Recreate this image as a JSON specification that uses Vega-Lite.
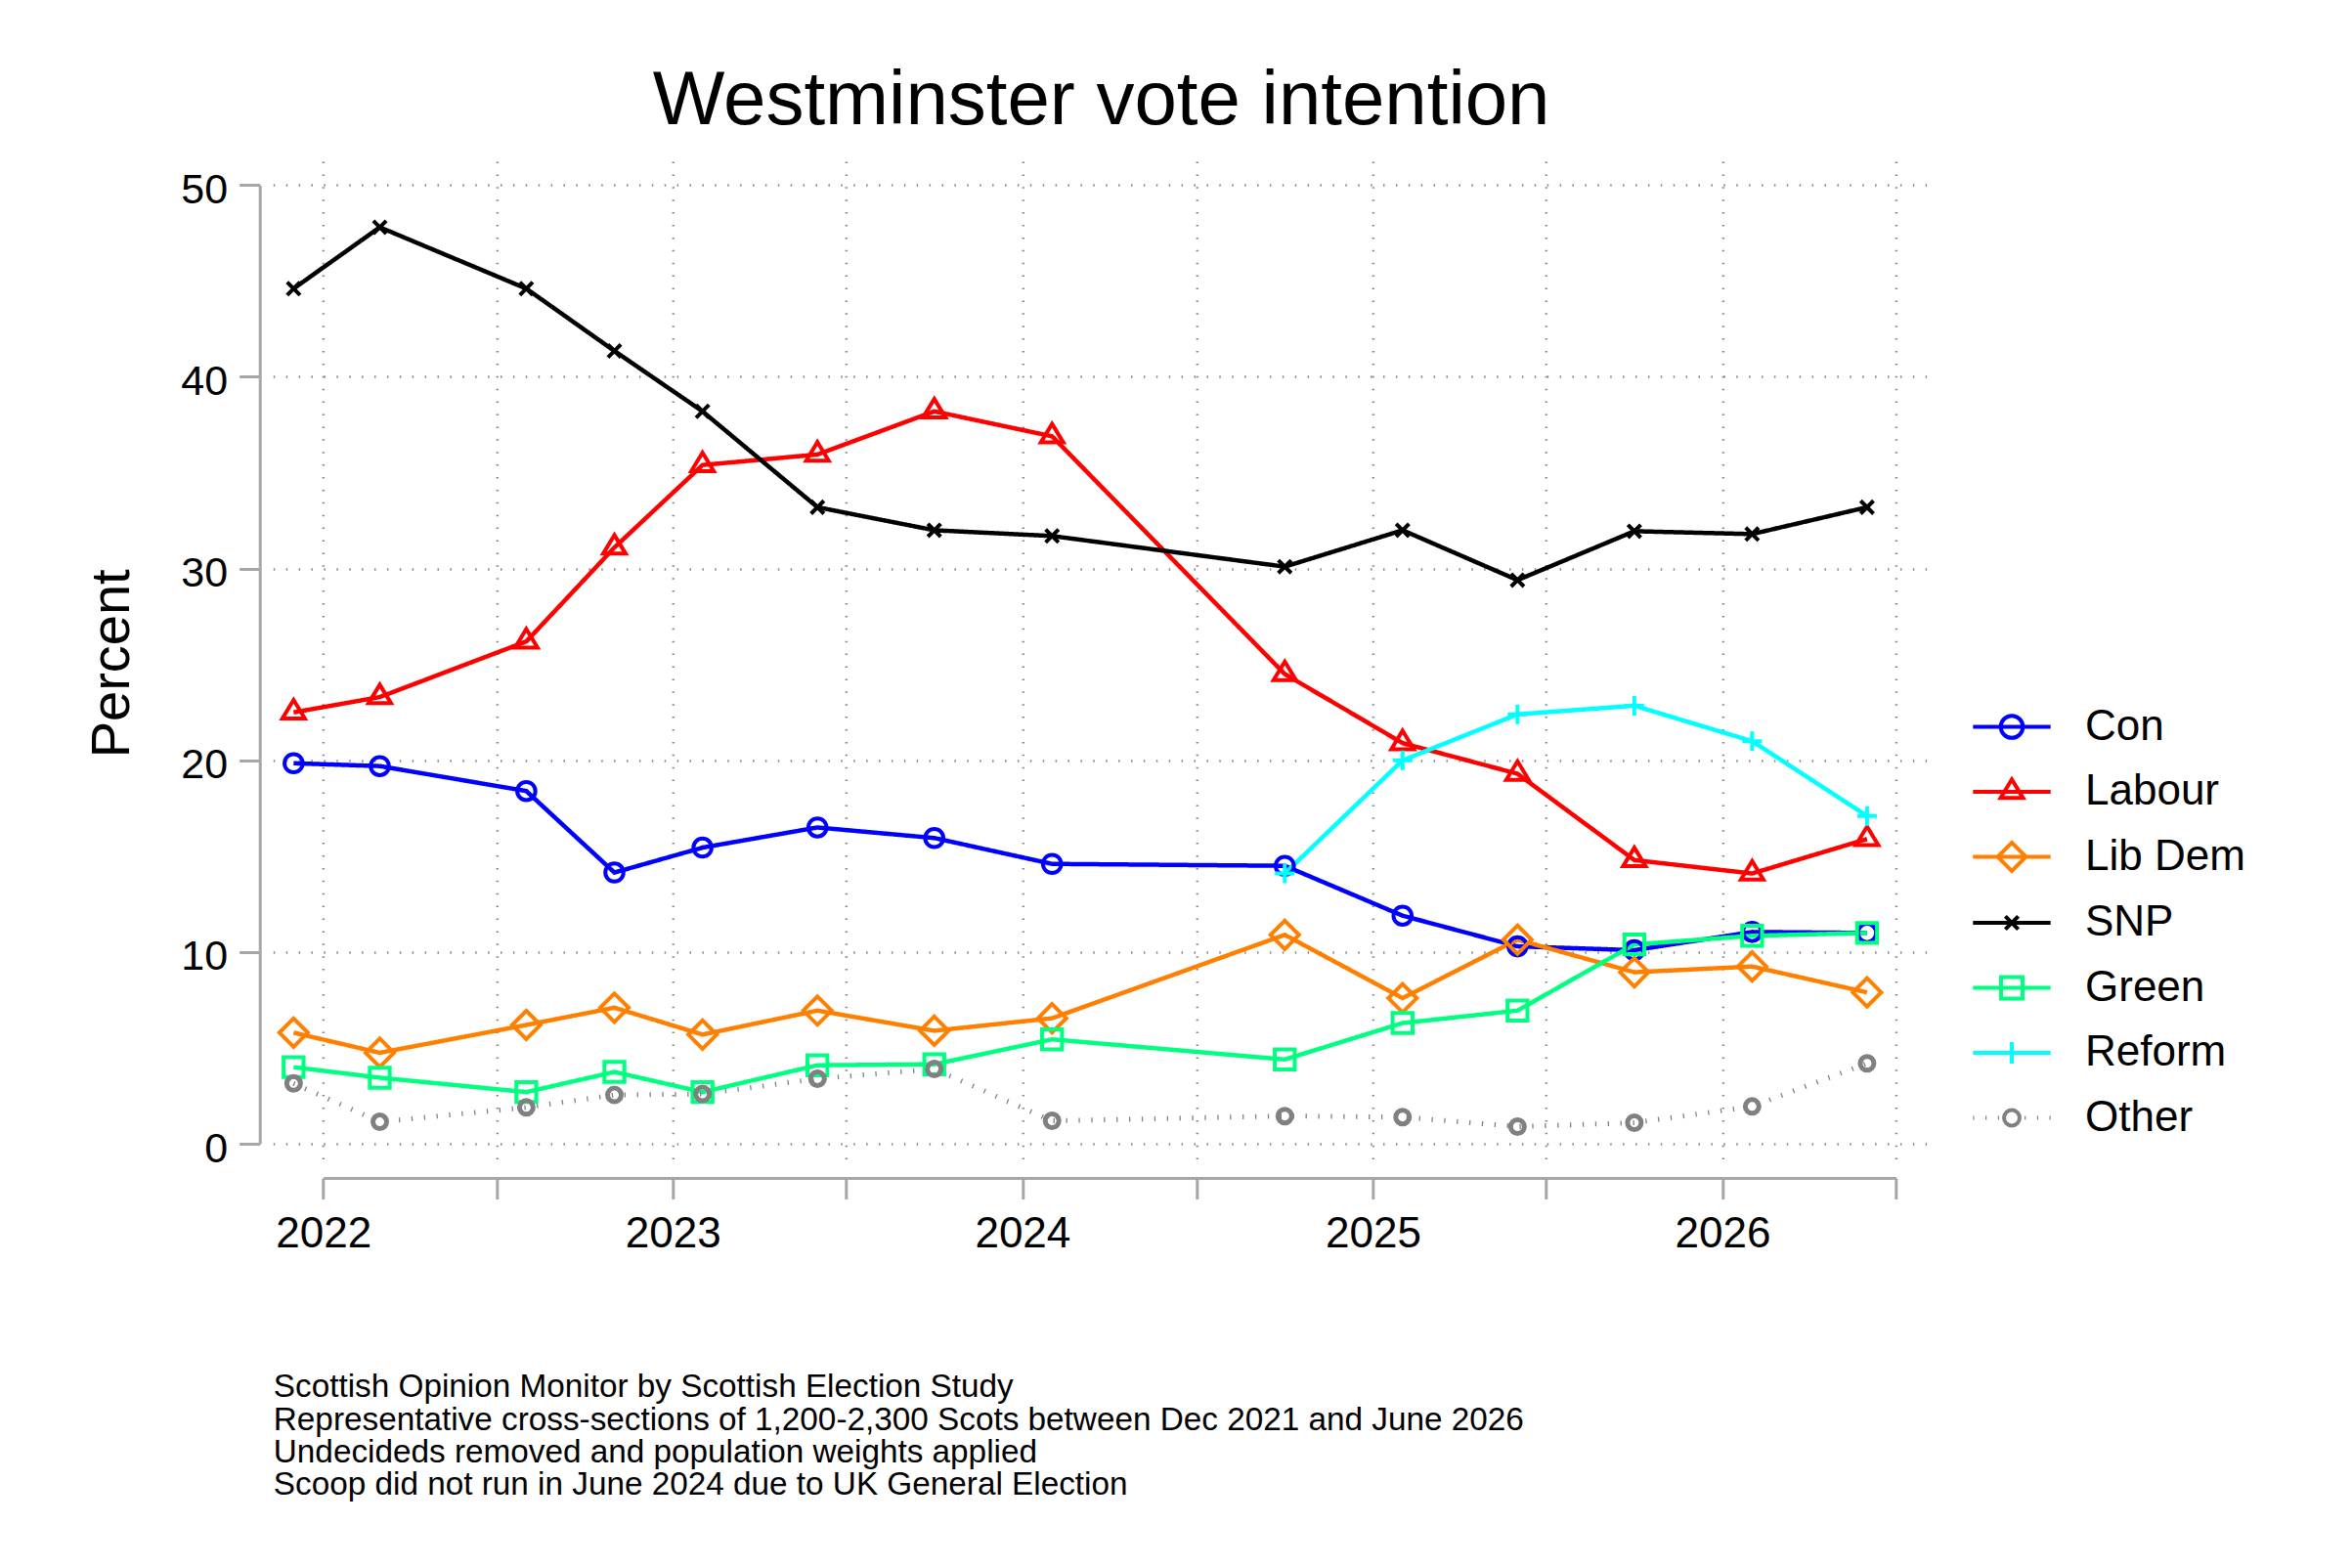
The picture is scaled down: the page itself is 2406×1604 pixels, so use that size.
{
  "$schema": "https://vega.github.io/schema/vega-lite/v6.json",
  "description": "Westminster vote intention, Scottish Opinion Monitor",
  "autosize": "none",
  "padding": {"left": 279.3, "top": 165, "right": 432, "bottom": 412.3},
  "width": 1694.7,
  "height": 1026.7,
  "background": "white",
  "config": {"view": {"stroke": null}, "font": "Liberation Sans"},
  "title": {
    "text": "Westminster vote intention",
    "font": "Liberation Sans",
    "fontSize": 78,
    "fontWeight": "normal",
    "color": "black",
    "anchor": "middle",
    "frame": "group",
    "baseline": "alphabetic",
    "offset": -40
  },
  "data": {
    "values": [
      {"date": "2021-12-01", "party": "Con", "pct": 19.85},
      {"date": "2022-03-01", "party": "Con", "pct": 19.7},
      {"date": "2022-08-01", "party": "Con", "pct": 18.4},
      {"date": "2022-11-01", "party": "Con", "pct": 14.15},
      {"date": "2023-02-01", "party": "Con", "pct": 15.45},
      {"date": "2023-06-01", "party": "Con", "pct": 16.5},
      {"date": "2023-10-01", "party": "Con", "pct": 15.95},
      {"date": "2024-02-01", "party": "Con", "pct": 14.6},
      {"date": "2024-10-01", "party": "Con", "pct": 14.5},
      {"date": "2025-02-01", "party": "Con", "pct": 11.9},
      {"date": "2025-06-01", "party": "Con", "pct": 10.3},
      {"date": "2025-10-01", "party": "Con", "pct": 10.1},
      {"date": "2026-02-01", "party": "Con", "pct": 11.05},
      {"date": "2026-06-01", "party": "Con", "pct": 11.0},
      {"date": "2021-12-01", "party": "Labour", "pct": 22.5},
      {"date": "2022-03-01", "party": "Labour", "pct": 23.3},
      {"date": "2022-08-01", "party": "Labour", "pct": 26.2},
      {"date": "2022-11-01", "party": "Labour", "pct": 31.1},
      {"date": "2023-02-01", "party": "Labour", "pct": 35.4},
      {"date": "2023-06-01", "party": "Labour", "pct": 35.95},
      {"date": "2023-10-01", "party": "Labour", "pct": 38.2},
      {"date": "2024-02-01", "party": "Labour", "pct": 36.9},
      {"date": "2024-10-01", "party": "Labour", "pct": 24.5},
      {"date": "2025-02-01", "party": "Labour", "pct": 20.9},
      {"date": "2025-06-01", "party": "Labour", "pct": 19.3},
      {"date": "2025-10-01", "party": "Labour", "pct": 14.8},
      {"date": "2026-02-01", "party": "Labour", "pct": 14.1},
      {"date": "2026-06-01", "party": "Labour", "pct": 15.9},
      {"date": "2021-12-01", "party": "Lib Dem", "pct": 5.8},
      {"date": "2022-03-01", "party": "Lib Dem", "pct": 4.75},
      {"date": "2022-08-01", "party": "Lib Dem", "pct": 6.2},
      {"date": "2022-11-01", "party": "Lib Dem", "pct": 7.1},
      {"date": "2023-02-01", "party": "Lib Dem", "pct": 5.7},
      {"date": "2023-06-01", "party": "Lib Dem", "pct": 6.95},
      {"date": "2023-10-01", "party": "Lib Dem", "pct": 5.9},
      {"date": "2024-02-01", "party": "Lib Dem", "pct": 6.55},
      {"date": "2024-10-01", "party": "Lib Dem", "pct": 10.9},
      {"date": "2025-02-01", "party": "Lib Dem", "pct": 7.6},
      {"date": "2025-06-01", "party": "Lib Dem", "pct": 10.65},
      {"date": "2025-10-01", "party": "Lib Dem", "pct": 8.95},
      {"date": "2026-02-01", "party": "Lib Dem", "pct": 9.25},
      {"date": "2026-06-01", "party": "Lib Dem", "pct": 7.9},
      {"date": "2021-12-01", "party": "SNP", "pct": 44.6},
      {"date": "2022-03-01", "party": "SNP", "pct": 47.8},
      {"date": "2022-08-01", "party": "SNP", "pct": 44.6},
      {"date": "2022-11-01", "party": "SNP", "pct": 41.35},
      {"date": "2023-02-01", "party": "SNP", "pct": 38.2},
      {"date": "2023-06-01", "party": "SNP", "pct": 33.2},
      {"date": "2023-10-01", "party": "SNP", "pct": 32.0},
      {"date": "2024-02-01", "party": "SNP", "pct": 31.7},
      {"date": "2024-10-01", "party": "SNP", "pct": 30.1},
      {"date": "2025-02-01", "party": "SNP", "pct": 32.0},
      {"date": "2025-06-01", "party": "SNP", "pct": 29.4},
      {"date": "2025-10-01", "party": "SNP", "pct": 31.95},
      {"date": "2026-02-01", "party": "SNP", "pct": 31.8},
      {"date": "2026-06-01", "party": "SNP", "pct": 33.2},
      {"date": "2021-12-01", "party": "Green", "pct": 4.0},
      {"date": "2022-03-01", "party": "Green", "pct": 3.45},
      {"date": "2022-08-01", "party": "Green", "pct": 2.7},
      {"date": "2022-11-01", "party": "Green", "pct": 3.75},
      {"date": "2023-02-01", "party": "Green", "pct": 2.7},
      {"date": "2023-06-01", "party": "Green", "pct": 4.1},
      {"date": "2023-10-01", "party": "Green", "pct": 4.15},
      {"date": "2024-02-01", "party": "Green", "pct": 5.45},
      {"date": "2024-10-01", "party": "Green", "pct": 4.4},
      {"date": "2025-02-01", "party": "Green", "pct": 6.3},
      {"date": "2025-06-01", "party": "Green", "pct": 6.95},
      {"date": "2025-10-01", "party": "Green", "pct": 10.4},
      {"date": "2026-02-01", "party": "Green", "pct": 10.85},
      {"date": "2026-06-01", "party": "Green", "pct": 11.0},
      {"date": "2024-10-01", "party": "Reform", "pct": 14.1},
      {"date": "2025-02-01", "party": "Reform", "pct": 20.0},
      {"date": "2025-06-01", "party": "Reform", "pct": 22.4},
      {"date": "2025-10-01", "party": "Reform", "pct": 22.85},
      {"date": "2026-02-01", "party": "Reform", "pct": 21.0},
      {"date": "2026-06-01", "party": "Reform", "pct": 17.1},
      {"date": "2021-12-01", "party": "Other", "pct": 3.15},
      {"date": "2022-03-01", "party": "Other", "pct": 1.15},
      {"date": "2022-08-01", "party": "Other", "pct": 1.9},
      {"date": "2022-11-01", "party": "Other", "pct": 2.55},
      {"date": "2023-02-01", "party": "Other", "pct": 2.6},
      {"date": "2023-06-01", "party": "Other", "pct": 3.4},
      {"date": "2023-10-01", "party": "Other", "pct": 3.9},
      {"date": "2024-02-01", "party": "Other", "pct": 1.2},
      {"date": "2024-10-01", "party": "Other", "pct": 1.45},
      {"date": "2025-02-01", "party": "Other", "pct": 1.4},
      {"date": "2025-06-01", "party": "Other", "pct": 0.9},
      {"date": "2025-10-01", "party": "Other", "pct": 1.1},
      {"date": "2026-02-01", "party": "Other", "pct": 1.95},
      {"date": "2026-06-01", "party": "Other", "pct": 4.2}
    ]
  },
  "encoding": {
    "x": {
      "field": "date",
      "type": "temporal",
      "scale": {
        "type": "utc",
        "domain": [
          {"year": 2021, "month": 11, "date": 9, "hours": 12, "minutes": 40, "utc": true},
          {"year": 2026, "month": 8, "date": 5, "hours": 10, "utc": true}
        ]
      },
      "axis": {
        "values": [
          {"year": 2022, "month": 1, "date": 1, "utc": true},
          {"year": 2022, "month": 7, "date": 1, "utc": true},
          {"year": 2023, "month": 1, "date": 1, "utc": true},
          {"year": 2023, "month": 7, "date": 1, "utc": true},
          {"year": 2024, "month": 1, "date": 1, "utc": true},
          {"year": 2024, "month": 7, "date": 1, "utc": true},
          {"year": 2025, "month": 1, "date": 1, "utc": true},
          {"year": 2025, "month": 7, "date": 1, "utc": true},
          {"year": 2026, "month": 1, "date": 1, "utc": true},
          {"year": 2026, "month": 7, "date": 1, "utc": true}
        ],
        "labelExpr": "utcmonth(datum.value) === 0 ? utcFormat(datum.value, '%Y') : ''",
        "labelFont": "Liberation Sans",
        "labelFontSize": 44,
        "labelColor": "black",
        "labelPadding": 14,
        "labelFlush": false,
        "labelOverlap": false,
        "offset": 13.3,
        "domainColor": "#A6A6A6",
        "domainWidth": 3,
        "domainDash": [1608.6, 3000],
        "domainDashOffset": 4557.2,
        "tickColor": "#A6A6A6",
        "tickWidth": 3,
        "tickSize": 21.5,
        "grid": true,
        "gridColor": "#8C8C8C",
        "gridWidth": 2.5,
        "gridDash": [1.5, 11.4],
        "title": [
          "Scottish Opinion Monitor by Scottish Election Study",
          "Representative cross-sections of 1,200-2,300 Scots between Dec 2021 and June 2026",
          "Undecideds removed and population weights applied",
          "Scoop did not run in June 2024 due to UK General Election"
        ],
        "titleFont": "Liberation Sans",
        "titleFontSize": 33.3,
        "titleFontWeight": "normal",
        "titleColor": "black",
        "titleAnchor": "start",
        "titleAlign": "left",
        "titleBaseline": "top",
        "titleLineHeight": 33.3,
        "titlePadding": 118.3
      }
    },
    "y": {
      "field": "pct",
      "type": "quantitative",
      "scale": {"domain": [-1.1, 51.24], "nice": false, "zero": false},
      "axis": {
        "values": [0, 10, 20, 30, 40, 50],
        "labelFont": "Liberation Sans",
        "labelFontSize": 43,
        "labelColor": "black",
        "labelPadding": 12,
        "labelOffset": 5,
        "offset": 13.6,
        "domainColor": "#A6A6A6",
        "domainWidth": 3,
        "domainDash": [980.7, 3000],
        "domainDashOffset": 3959,
        "tickColor": "#A6A6A6",
        "tickWidth": 3,
        "tickSize": 21,
        "grid": true,
        "gridColor": "#8C8C8C",
        "gridWidth": 2.5,
        "gridDash": [1.5, 11.4],
        "title": "Percent",
        "titleFont": "Liberation Sans",
        "titleFontSize": 56,
        "titleFontWeight": "normal",
        "titleColor": "black",
        "titlePadding": 41
      }
    },
    "color": {
      "field": "party",
      "type": "nominal",
      "scale": {
        "domain": ["Con", "Labour", "Lib Dem", "SNP", "Green", "Reform", "Other"],
        "range": ["#0000FF", "#FF0000", "#FF8000", "#000000", "#00FF80", "#00FFFF", "#808080"]
      },
      "legend": {
        "title": null,
        "orient": "none",
        "legendX": 1736.7,
        "legendY": 536.5,
        "padding": 0,
        "rowPadding": 2.5,
        "labelFont": "Liberation Sans",
        "labelFontSize": 44,
        "labelColor": "black",
        "labelLimit": 400,
        "labelOffset": 33,
        "symbolSize": 6304,
        "symbolStrokeWidth": 4,
        "symbolFillColor": "transparent",
        "symbolOpacity": 1,
        "encoding": {
          "symbols": {
            "fill": {"value": "transparent"},
            "shape": {"value": {"expr": "datum.value === 'Con' ? 'M-1,0L1,0M0.285,0C0.285,0.157 0.157,0.285 0,0.285C-0.157,0.285 -0.285,0.157 -0.285,0C-0.285,-0.157 -0.157,-0.285 0,-0.285C0.157,-0.285 0.285,-0.157 0.285,0Z' : datum.value === 'Labour' ? 'M-1,0L1,0M0,-0.32L0.29,0.16L-0.29,0.16Z' : datum.value === 'Lib Dem' ? 'M-1,0L1,0M0,-0.365L0.365,0L0,0.365L-0.365,0Z' : datum.value === 'SNP' ? 'M-1,0L1,0M-0.166,-0.166L0.166,0.166M-0.166,0.166L0.166,-0.166' : datum.value === 'Green' ? 'M-1,0L1,0M-0.277,-0.277L0.277,-0.277L0.277,0.277L-0.277,0.277Z' : datum.value === 'Reform' ? 'M-1,0L1,0M0,-0.277L0,0.277' : 'M-1,0L-0.97,0M-0.68,0L-0.65,0M-0.36,0L-0.33,0M0.33,0L0.36,0M0.65,0L0.68,0M0.97,0L1,0M0.2,0C0.2,0.11 0.11,0.2 0,0.2C-0.11,0.2 -0.2,0.11 -0.2,0C-0.2,-0.11 -0.11,-0.2 0,-0.2C0.11,-0.2 0.2,-0.11 0.2,0Z'"}}
          }
        }
      }
    }
  },
  "layer": [
    {
      "mark": {"type": "line", "opacity": 1},
      "encoding": {
        "strokeWidth": {"condition": {"test": "datum.party === 'Other'", "value": 5}, "value": 4.5},
        "strokeDash": {"condition": {"test": "datum.party === 'Other'", "value": [1.3, 11.6]}, "value": [1, 0]}
      }
    },
    {
      "mark": {"type": "point", "filled": false, "opacity": 1, "size": 1600},
      "encoding": {
        "strokeWidth": {"condition": {"test": "datum.party === 'Other'", "value": 5}, "value": 4},
        "shape": {
          "condition": [
            {"test": "datum.party === 'Con'", "value": "M0.465,0C0.465,0.257 0.257,0.465 0,0.465C-0.257,0.465 -0.465,0.257 -0.465,0C-0.465,-0.257 -0.257,-0.465 0,-0.465C0.257,-0.465 0.465,-0.257 0.465,0Z"},
            {"test": "datum.party === 'Labour'", "value": "M0,-0.635L0.575,0.315L-0.575,0.315Z"},
            {"test": "datum.party === 'Lib Dem'", "value": "M0,-0.725L0.725,0L0,0.725L-0.725,0Z"},
            {"test": "datum.party === 'SNP'", "value": "M-0.33,-0.33L0.33,0.33M-0.33,0.33L0.33,-0.33"},
            {"test": "datum.party === 'Green'", "value": "M-0.51,-0.51L0.51,-0.51L0.51,0.51L-0.51,0.51Z"},
            {"test": "datum.party === 'Reform'", "value": "M-0.5,0L0.5,0M0,-0.5L0,0.5"}
          ],
          "value": "M0.35,0C0.35,0.193 0.193,0.35 0,0.35C-0.193,0.35 -0.35,0.193 -0.35,0C-0.35,-0.193 -0.193,-0.35 0,-0.35C0.193,-0.35 0.35,-0.193 0.35,0Z"
        }
      }
    }
  ]
}
